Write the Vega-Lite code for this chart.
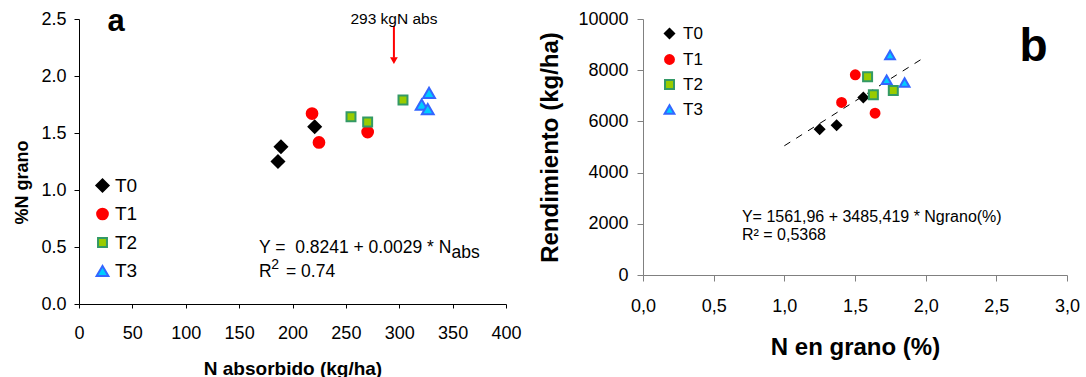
{
  "$schema": "https://vega.github.io/schema/vega-lite/v6.json",
  "padding": {"left": 13, "top": 5, "right": 0, "bottom": 0},
  "spacing": 15,
  "datasets": {
    "a": [
      {"trat": "T0", "nabs": 186.4, "ngrano": 1.25},
      {"trat": "T0", "nabs": 189.2, "ngrano": 1.38},
      {"trat": "T0", "nabs": 220.8, "ngrano": 1.555},
      {"trat": "T1", "nabs": 218.3, "ngrano": 1.67},
      {"trat": "T1", "nabs": 224.8, "ngrano": 1.417},
      {"trat": "T1", "nabs": 270.4, "ngrano": 1.508},
      {"trat": "T2", "nabs": 254.8, "ngrano": 1.643},
      {"trat": "T2", "nabs": 270.4, "ngrano": 1.596},
      {"trat": "T2", "nabs": 303.5, "ngrano": 1.79},
      {"trat": "T3", "nabs": 327.9, "ngrano": 1.851},
      {"trat": "T3", "nabs": 321.0, "ngrano": 1.749},
      {"trat": "T3", "nabs": 326.7, "ngrano": 1.71}
    ],
    "b": [
      {"trat": "T0", "ngr": 1.25, "rend": 5695},
      {"trat": "T0", "ngr": 1.37, "rend": 5851},
      {"trat": "T0", "ngr": 1.559, "rend": 6935},
      {"trat": "T1", "ngr": 1.502, "rend": 7820},
      {"trat": "T1", "ngr": 1.405, "rend": 6740},
      {"trat": "T1", "ngr": 1.642, "rend": 6321},
      {"trat": "T2", "ngr": 1.589, "rend": 7742},
      {"trat": "T2", "ngr": 1.63, "rend": 7037},
      {"trat": "T2", "ngr": 1.771, "rend": 7209},
      {"trat": "T3", "ngr": 1.748, "rend": 8591},
      {"trat": "T3", "ngr": 1.724, "rend": 7624},
      {"trat": "T3", "ngr": 1.851, "rend": 7522}
    ]
  },
  "hconcat": [
    {
      "width": 427,
      "height": 285,
      "layer": [
        {
          "data": {"name": "a"},
          "mark": {"type": "point", "filled": true, "strokeWidth": 2, "opacity": 1},
          "encoding": {
            "x": {
              "field": "nabs", "type": "quantitative",
              "scale": {"domain": [0, 400], "nice": false},
              "axis": {
                "values": [0, 50, 100, 150, 200, 250, 300, 350, 400],
                "title": "N absorbido (kg/ha)",
                "titleFontSize": 19, "titleFontWeight": "bold",
                "titleY": 64, "titleBaseline": "middle",
                "labelFontSize": 18, "tickSize": 4, "labelPadding": 16
              }
            },
            "y": {
              "field": "ngrano", "type": "quantitative",
              "scale": {"domain": [0, 2.5], "nice": false},
              "axis": {
                "values": [0, 0.5, 1, 1.5, 2, 2.5], "format": ".1f",
                "title": "%N grano",
                "titleFontSize": 18, "titleFontWeight": "bold",
                "titleX": -57, "titleY": 163, "titleBaseline": "middle",
                "labelFontSize": 18, "tickSize": 5, "labelPadding": 8
              }
            },
            "shape": {
              "field": "trat", "type": "ordinal",
              "scale": {"domain": ["T0", "T1", "T2", "T3"], "range": ["diamond", "circle", "square", "triangle-up"]},
              "legend": {"title": null, "orient": "none", "legendX": 14, "legendY": 157, "labelFontSize": 19, "labelOffset": 3, "rowPadding": 8.5, "padding": 0, "symbolStrokeWidth": 2}
            },
            "fill": {
              "field": "trat", "type": "ordinal",
              "scale": {"domain": ["T0", "T1", "T2", "T3"], "range": ["#000000", "#FF0000", "#99CC00", "#00CCFF"]},
              "legend": {"title": null, "orient": "none", "legendX": 14, "legendY": 157, "labelFontSize": 19, "labelOffset": 3, "rowPadding": 8.5, "padding": 0, "symbolStrokeWidth": 2}
            },
            "stroke": {
              "field": "trat", "type": "ordinal",
              "scale": {"domain": ["T0", "T1", "T2", "T3"], "range": ["#000000", "#FF0000", "#339966", "#3366FF"]},
              "legend": {"title": null, "orient": "none", "legendX": 14, "legendY": 157, "labelFontSize": 19, "labelOffset": 3, "rowPadding": 8.5, "padding": 0, "symbolStrokeWidth": 2}
            },
            "size": {
              "field": "trat", "type": "ordinal",
              "scale": {"type": "ordinal", "domain": ["T0", "T1", "T2", "T3"], "range": [150, 115, 80, 140]},
              "legend": {"title": null, "orient": "none", "legendX": 14, "legendY": 157, "labelFontSize": 19, "labelOffset": 3, "rowPadding": 8.5, "padding": 0, "symbolStrokeWidth": 2}
            }
          }
        },
        {
          "data": {"values": [{"nabs": 295, "ngrano": 2.44, "ngrano2": 2.16}]},
          "mark": {"type": "rule", "color": "#FF0000", "strokeWidth": 2},
          "encoding": {
            "x": {"field": "nabs", "type": "quantitative"},
            "y": {"field": "ngrano", "type": "quantitative"},
            "y2": {"field": "ngrano2"}
          }
        },
        {
          "data": {"values": [{"nabs": 295, "ngrano": 2.135}]},
          "mark": {"type": "point", "shape": "triangle-down", "filled": true, "color": "#FF0000", "size": 60, "opacity": 1},
          "encoding": {
            "x": {"field": "nabs", "type": "quantitative"},
            "y": {"field": "ngrano", "type": "quantitative"}
          }
        },
        {
          "data": {"values": [{"nabs": 295, "ngrano": 2.46, "t": "293 kgN abs"}]},
          "mark": {"type": "text", "fontSize": 15.5, "align": "center", "baseline": "alphabetic", "color": "#000"},
          "encoding": {
            "x": {"field": "nabs", "type": "quantitative"},
            "y": {"field": "ngrano", "type": "quantitative"},
            "text": {"field": "t"}
          }
        },
        {
          "data": {"values": [{"nabs": 34.7, "ngrano": 2.395, "t": "a"}]},
          "mark": {"type": "text", "fontSize": 31, "fontWeight": "bold", "align": "center", "baseline": "alphabetic", "color": "#000"},
          "encoding": {
            "x": {"field": "nabs", "type": "quantitative"},
            "y": {"field": "ngrano", "type": "quantitative"},
            "text": {"field": "t"}
          }
        },
        {
          "data": {"values": [
            {"nabs": 168.6, "ngrano": 0.487, "t": "Y =\u00a0 0.8241 + 0.0029 * N"},
            {"nabs": 349.0, "ngrano": 0.443, "t": "abs"},
            {"nabs": 168.6, "ngrano": 0.277, "t": "R"},
            {"nabs": 193.9, "ngrano": 0.277, "t": "= 0.74"}
          ]},
          "mark": {"type": "text", "fontSize": 17.5, "align": "left", "baseline": "middle", "color": "#000"},
          "encoding": {
            "x": {"field": "nabs", "type": "quantitative"},
            "y": {"field": "ngrano", "type": "quantitative"},
            "text": {"field": "t"}
          }
        },
        {
          "data": {"values": [{"nabs": 180.0, "ngrano": 0.346, "t": "2"}]},
          "mark": {"type": "text", "fontSize": 14, "align": "left", "baseline": "middle", "color": "#000"},
          "encoding": {
            "x": {"field": "nabs", "type": "quantitative"},
            "y": {"field": "ngrano", "type": "quantitative"},
            "text": {"field": "t"}
          }
        }
      ]
    },
    {
      "width": 424,
      "height": 256,
      "layer": [
        {
          "data": {"values": [{"ngr": 1.0, "rend": 5047.4}, {"ngr": 2.0, "rend": 8532.8}]},
          "mark": {"type": "line", "color": "#000", "strokeWidth": 1, "strokeDash": [7, 7]},
          "encoding": {
            "x": {
              "field": "ngr", "type": "quantitative",
              "scale": {"domain": [0, 3], "nice": false},
              "axis": {
                "values": [0, 0.5, 1, 1.5, 2, 2.5, 3],
                "labelExpr": "replace(format(datum.value, '.1f'), '.', ',')",
                "title": "N en grano (%)",
                "titleFontSize": 24, "titleFontWeight": "bold",
                "titleY": 72, "titleBaseline": "middle",
                "labelFontSize": 18, "tickSize": 6, "labelPadding": 16,
                "domainColor": "#808080", "tickColor": "#808080"
              }
            },
            "y": {
              "field": "rend", "type": "quantitative",
              "scale": {"domain": [0, 10000], "nice": false},
              "axis": {
                "values": [0, 2000, 4000, 6000, 8000, 10000], "format": "d",
                "title": "Rendimiento (kg/ha)",
                "titleFontSize": 24, "titleFontWeight": "bold",
                "titleX": -93, "titleBaseline": "middle",
                "labelFontSize": 18, "tickSize": 6, "labelPadding": 9,
                "domainColor": "#808080", "tickColor": "#808080"
              }
            }
          }
        },
        {
          "data": {"name": "b"},
          "mark": {"type": "point", "filled": true, "strokeWidth": 2, "opacity": 1},
          "encoding": {
            "x": {"field": "ngr", "type": "quantitative"},
            "y": {"field": "rend", "type": "quantitative"},
            "shape": {
              "field": "trat", "type": "ordinal",
              "scale": {"domain": ["T0", "T1", "T2", "T3"], "range": ["diamond", "circle", "square", "triangle-up"]},
              "legend": {"title": null, "orient": "none", "legendX": 18, "legendY": 6, "labelFontSize": 17, "labelOffset": 5, "rowPadding": 7, "padding": 0, "symbolStrokeWidth": 2}
            },
            "fill": {
              "field": "trat", "type": "ordinal",
              "scale": {"domain": ["T0", "T1", "T2", "T3"], "range": ["#000000", "#FF0000", "#99CC00", "#00CCFF"]},
              "legend": {"title": null, "orient": "none", "legendX": 18, "legendY": 6, "labelFontSize": 17, "labelOffset": 5, "rowPadding": 7, "padding": 0, "symbolStrokeWidth": 2}
            },
            "stroke": {
              "field": "trat", "type": "ordinal",
              "scale": {"domain": ["T0", "T1", "T2", "T3"], "range": ["#000000", "#FF0000", "#339966", "#3366FF"]},
              "legend": {"title": null, "orient": "none", "legendX": 18, "legendY": 6, "labelFontSize": 17, "labelOffset": 5, "rowPadding": 7, "padding": 0, "symbolStrokeWidth": 2}
            },
            "size": {
              "field": "trat", "type": "ordinal",
              "scale": {"type": "ordinal", "domain": ["T0", "T1", "T2", "T3"], "range": [85, 79, 81, 95]},
              "legend": {"title": null, "orient": "none", "legendX": 18, "legendY": 6, "labelFontSize": 17, "labelOffset": 5, "rowPadding": 7, "padding": 0, "symbolStrokeWidth": 2}
            }
          }
        },
        {
          "data": {"values": [
            {"ngr": 0.70, "rend": 2250, "t": "Y= 1561,96 + 3485,419 * Ngrano(%)"},
            {"ngr": 0.70, "rend": 1546, "t": "R² = 0,5368"}
          ]},
          "mark": {"type": "text", "fontSize": 16, "align": "left", "baseline": "middle", "color": "#000"},
          "encoding": {
            "x": {"field": "ngr", "type": "quantitative"},
            "y": {"field": "rend", "type": "quantitative"},
            "text": {"field": "t"}
          }
        },
        {
          "data": {"values": [{"ngr": 2.764, "rend": 8357, "t": "b"}]},
          "mark": {"type": "text", "fontSize": 46, "fontWeight": "bold", "align": "center", "baseline": "alphabetic", "color": "#000"},
          "encoding": {
            "x": {"field": "ngr", "type": "quantitative"},
            "y": {"field": "rend", "type": "quantitative"},
            "text": {"field": "t"}
          }
        }
      ]
    }
  ],
  "resolve": {
    "scale": {"shape": "independent", "fill": "independent", "stroke": "independent", "size": "independent"},
    "legend": {"shape": "independent", "fill": "independent", "stroke": "independent", "size": "independent"}
  },
  "config": {
    "font": "Liberation Sans",
    "view": {"stroke": null},
    "axis": {
      "grid": false, "labelColor": "#000000", "titleColor": "#000000",
      "domainColor": "#000000", "tickColor": "#000000",
      "labelFlush": false, "labelOverlap": false
    }
  }
}
